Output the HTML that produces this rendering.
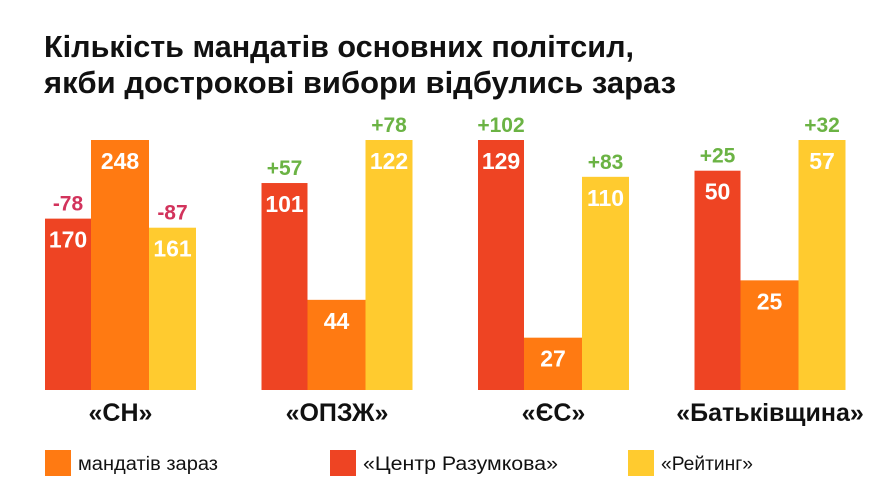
<!DOCTYPE html>
<html><head><meta charset="utf-8"><style>
html,body{margin:0;padding:0;background:#fff;}
svg{display:block;font-family:"Liberation Sans","DejaVu Sans",sans-serif;}
</style></head><body>
<svg id="chart" width="889" height="500" viewBox="0 0 889 500">
<text x="44" y="57" font-size="31" font-weight="bold" fill="#111" textLength="590" lengthAdjust="spacingAndGlyphs">Кількість мандатів основних політсил,</text>
<text x="44" y="93" font-size="31" font-weight="bold" fill="#111" textLength="632" lengthAdjust="spacingAndGlyphs">якби дострокові вибори відбулись зараз</text>
<g id="bars"></g>
<rect x="45" y="450" width="26" height="26" fill="#ff7a12"/>
<text x="78" y="470" font-size="19" fill="#111" textLength="140" lengthAdjust="spacingAndGlyphs">мандатів зараз</text>
<rect x="330" y="450" width="26" height="26" fill="#ee4423"/>
<text x="363" y="470" font-size="19" fill="#111" textLength="195" lengthAdjust="spacingAndGlyphs">«Центр Разумкова»</text>
<rect x="628" y="450" width="26" height="26" fill="#ffcb2f"/>
<text x="661" y="470" font-size="19" fill="#111" textLength="92" lengthAdjust="spacingAndGlyphs">«Рейтинг»</text>
</svg>
<script>
const categories = ["«СН»", "«ОПЗЖ»", "«ЄС»", "«Батьківщина»"];
const razumkov = [170, 101, 129, 50];
const now = [248, 44, 27, 25];
const rating = [161, 122, 110, 57];
const razumkovDelta = ["-78", "+57", "+102", "+25"];
const ratingDelta = ["-87", "+78", "+83", "+32"];

const NS = "http://www.w3.org/2000/svg";
const g = document.getElementById("bars");
const baseY = 390, maxH = 250;
function groupX(i){ return 45 + i * 216.5; }
function yScale(v, m){ return baseY - v / m * maxH; }
function mk(tag, attrs){ const e = document.createElementNS(NS, tag); for (const k in attrs) e.setAttribute(k, attrs[k]); g.appendChild(e); return e; }

categories.forEach((cat, i) => {
  const m = Math.max(razumkov[i], now[i], rating[i]);
  const x0 = groupX(i);
  const series = [
    {v: razumkov[i], x: x0, w: 46, c: "#ee4423", d: razumkovDelta[i], n: "razumkov"},
    {v: now[i], x: x0 + 46, w: 58, c: "#ff7a12", d: null, n: "now"},
    {v: rating[i], x: x0 + 104, w: 47, c: "#ffcb2f", d: ratingDelta[i], n: "rating"}
  ];
  series.forEach(s => {
    const y = yScale(s.v, m);
    const r = mk("rect", {x: s.x, y: y, width: s.w, height: baseY - y, fill: s.c});
    
    
    const t = mk("text", {x: s.x + s.w / 2, y: y + 29, "text-anchor": "middle", "font-size": 23, "font-weight": "bold", fill: "#fff"});
    t.textContent = s.v;
    
    
    if (s.d) {
      const d = mk("text", {x: s.x + s.w / 2, y: y - 8, "text-anchor": "middle", "font-size": 21, "font-weight": "bold", fill: s.d[0] === "-" ? "#d2335c" : "#6bb344"});
      d.textContent = s.d;
      
      
    }
  });
  const c = mk("text", {x: x0 + 75.5, y: 421, "text-anchor": "middle", "font-size": 25, "font-weight": "bold", fill: "#111"});
  c.textContent = cat;
  
  
});
</script>
</body></html>
